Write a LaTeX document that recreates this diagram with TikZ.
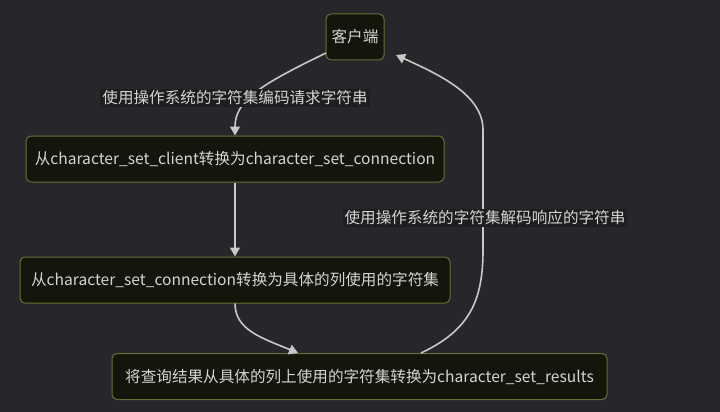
\documentclass[tikz,border=0pt]{standalone}
\usepackage{fontspec}
\setmainfont{Noto Sans CJK SC}
\usetikzlibrary{arrows.meta}
\definecolor{bg}{HTML}{27262B}
\definecolor{nodefill}{HTML}{14150B}
\definecolor{nodeline}{HTML}{6B6D35}
\definecolor{txt}{HTML}{D4D4D0}
\definecolor{edge}{HTML}{C8C8C6}
\definecolor{lblbg}{HTML}{1E1E21}
\tikzset{
  box/.style={draw=nodeline, fill=nodefill, line width=1pt, rounded corners=5pt,
    text=txt, font=\fontsize{15.6}{18}\selectfont, minimum height=46pt, inner sep=0pt},
  lbl/.style={fill=lblbg, text=txt, font=\fontsize{15.6}{18}\selectfont, inner sep=2pt},
  conn/.style={draw=edge, line width=1.6pt, -{Triangle[length=9pt,width=10pt]}},
}
\begin{document}
\begin{tikzpicture}[x=1pt,y=-1pt]
\fill[bg] (0,0) rectangle (720,412);
\useasboundingbox (0,0) rectangle (720,412);
\node[box, minimum width=58pt] (c) at (355,37) {客户端};
\node[box, minimum width=418pt] (a) at (235,159) {从character\_set\_client转换为character\_set\_connection};
\node[box, minimum width=430pt] (b) at (235,280) {从character\_set\_connection转换为具体的列使用的字符集};
\node[box, minimum width=495pt] (r) at (359.5,376.5) {将查询结果从具体的列上使用的字符集转换为character\_set\_results};
\coordinate (c1) at (326,53);
\coordinate (c2) at (396,55);
\coordinate (r1) at (421,353);
\coordinate (r2) at (298,353);
\draw[conn] (c1) .. controls (262,84) and (235,100) .. (a.north);
\draw[conn] (a.south) -- (b.north);
\draw[conn] (b.south) .. controls (235,330) and (262,338) .. (r2);
\draw[conn] (r1) .. controls (470,330) and (483,300) .. (483,250) -- (483,130) .. controls (483,95) and (440,75) .. (c2);
\node[lbl] (l1) at (235,98) {使用操作系统的字符集编码请求字符串};
\node[lbl] (l2) at (485,218) {使用操作系统的字符集解码响应的字符串};
\end{tikzpicture}
\end{document}
